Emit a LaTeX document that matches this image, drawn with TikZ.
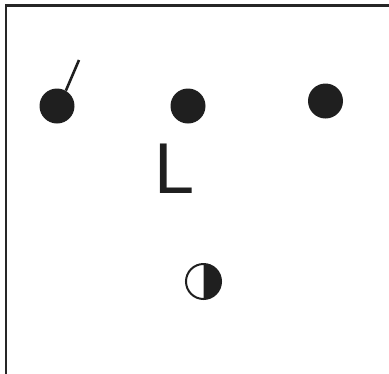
\documentclass[tikz,border=0pt]{standalone}
\usepackage{fontspec}
\setmainfont{Liberation Sans}
\begin{document}
\begin{tikzpicture}[x=1pt,y=-1pt,
  dot/.style={circle,fill=black!88,inner sep=0pt,minimum size=35pt},
  frame/.style={line width=2.6pt,draw=black!85},
  stick/.style={line width=2.6pt,draw=black!88}]
\useasboundingbox (0,0) rectangle (389,373);
\draw[frame] (6,380) -- (6,5.5) -- (400,5.5);
\node[dot] (d1) at (57,106) {};
\node[dot] (d2) at (188,106) {};
\node[dot] (d3) at (325.5,101) {};
\coordinate (tip) at (79,60);
\draw[stick] (d1.60) -- (tip);
\node[anchor=base west,inner sep=0pt,font=\fontsize{72}{72}\selectfont,text=black!88] (L) at (154,193) {L};
\coordinate (m) at (203.5,281.5);
\fill[black!88] (m) ++(0,-17) arc[start angle=-90,end angle=90,radius=17] -- cycle;
\node[circle,draw=black!88,line width=2pt,inner sep=0pt,minimum size=35pt] (moon) at (m) {};
\end{tikzpicture}
\end{document}
